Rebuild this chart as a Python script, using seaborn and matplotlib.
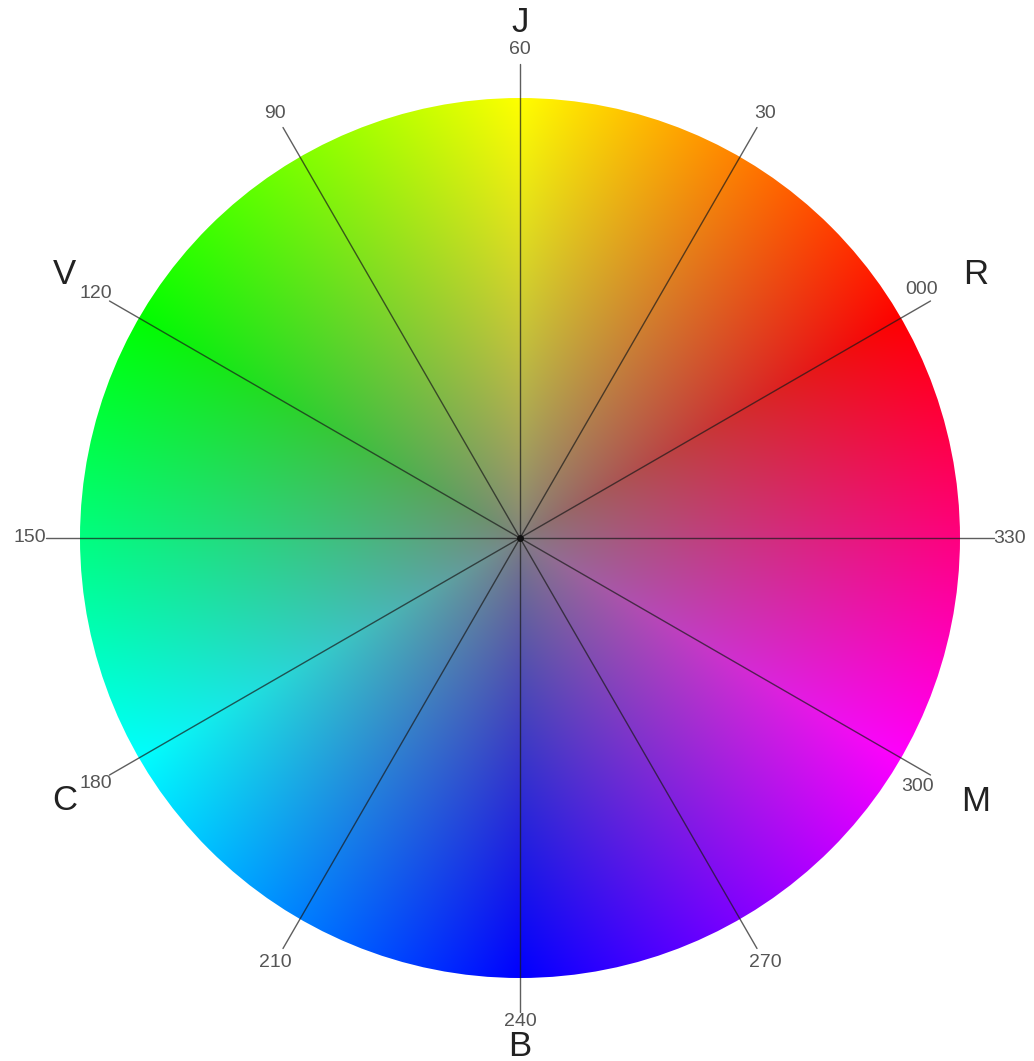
import numpy as np
import pandas as pd
import matplotlib
matplotlib.use("Agg")
import matplotlib.pyplot as plt
from matplotlib.patches import Circle
import seaborn as sns

# ---- data ----
hues = [0, 30, 60, 90, 120, 150, 180, 210, 240, 270, 300, 330]
hue_labels = ["000", "30", "60", "90", "120", "150", "180", "210", "240", "270", "300", "330"]
letter_hues = [0, 60, 120, 180, 240, 300]
letters = ["R", "J", "V", "C", "B", "M"]

# ---- layout (pixel units, centre of the wheel at origin) ----
W, H = 1034, 1061
CX, CY = 520, 538
R_DISK = 440
R_SPOKE = 474
R_NUM = 490
R_LET = 526
ROT = 30  # hue 0 sits at 30 deg (counter-clockwise from the right)

sns.set_theme(style="white")
plt.rcParams["font.family"] = ["Liberation Sans", "DejaVu Sans"]

fig = plt.figure(figsize=(W / 100, H / 100), dpi=100)
ax = fig.add_axes([0, 0, 1, 1])
ax.set_xlim(-CX, W - CX)
ax.set_ylim(-(H - CY), CY)
ax.set_aspect("equal")
ax.axis("off")


def hue_to_rgb(h):
    # h in degrees, vectorised, full saturation / mid lightness
    h = (np.asarray(h) % 360) / 60.0
    r = np.clip(np.abs(h - 3) - 1, 0, 1)
    g = np.clip(2 - np.abs(h - 2), 0, 1)
    b = np.clip(2 - np.abs(h - 4), 0, 1)
    return np.stack([r, g, b], axis=-1)


# colour disk: hue by angle, saturation by radius (HSL, L = 0.5)
n = 900
xs = np.linspace(-R_DISK - 2, R_DISK + 2, n)
gx, gy = np.meshgrid(xs, xs[::-1])
ang = np.degrees(np.arctan2(gy, gx)) - ROT
sat = (np.clip(np.hypot(gx, gy) / R_DISK, 0, 1) ** 0.8)[..., None]
grey = np.array([0.5, 0.5, 0.5])
img = grey * (1 - sat) + hue_to_rgb(ang) * sat
im = ax.imshow(img, extent=[xs[0], xs[-1], xs[0], xs[-1]], interpolation="bilinear", zorder=1)
im.set_clip_path(Circle((0, 0), R_DISK, transform=ax.transData))

# spokes from the centre out past the rim
rows = []
for h in hues:
    t = np.radians(h + ROT)
    rows.append({"hue": h, "x": 0.0, "y": 0.0})
    rows.append({"hue": h, "x": R_SPOKE * np.cos(t), "y": R_SPOKE * np.sin(t)})
spokes = pd.DataFrame(rows)
sns.lineplot(data=spokes, x="x", y="y", units="hue", estimator=None, sort=False,
             color="#1a1a1a", alpha=0.7, linewidth=1.0, ax=ax, zorder=3)
ax.set_xlabel("")
ax.set_ylabel("")
ax.plot([0], [0], "o", color="#111111", markersize=4, zorder=4)

# numeric hue labels
tweak = {"000": (472, 1.8), "300": (469, -2.0), "60": (488, 0.0), "240": (483, 0.0)}
for h, lab in zip(hues, hue_labels):
    r, da = tweak.get(lab, (R_NUM, 0.0))
    t = np.radians(h + ROT + da)
    ax.text(r * np.cos(t), r * np.sin(t), lab, ha="center", va="center",
            fontsize=14, color="#555555", zorder=5)

# colour initials
let_r = {"J": 516, "B": 508}
for h, lab in zip(letter_hues, letters):
    t = np.radians(h + ROT)
    r = let_r.get(lab, R_LET)
    ax.text(r * np.cos(t), r * np.sin(t), lab, ha="center", va="center",
            fontsize=25, color="#222222", zorder=5)

fig.savefig("out.png", dpi=100, facecolor="white")
